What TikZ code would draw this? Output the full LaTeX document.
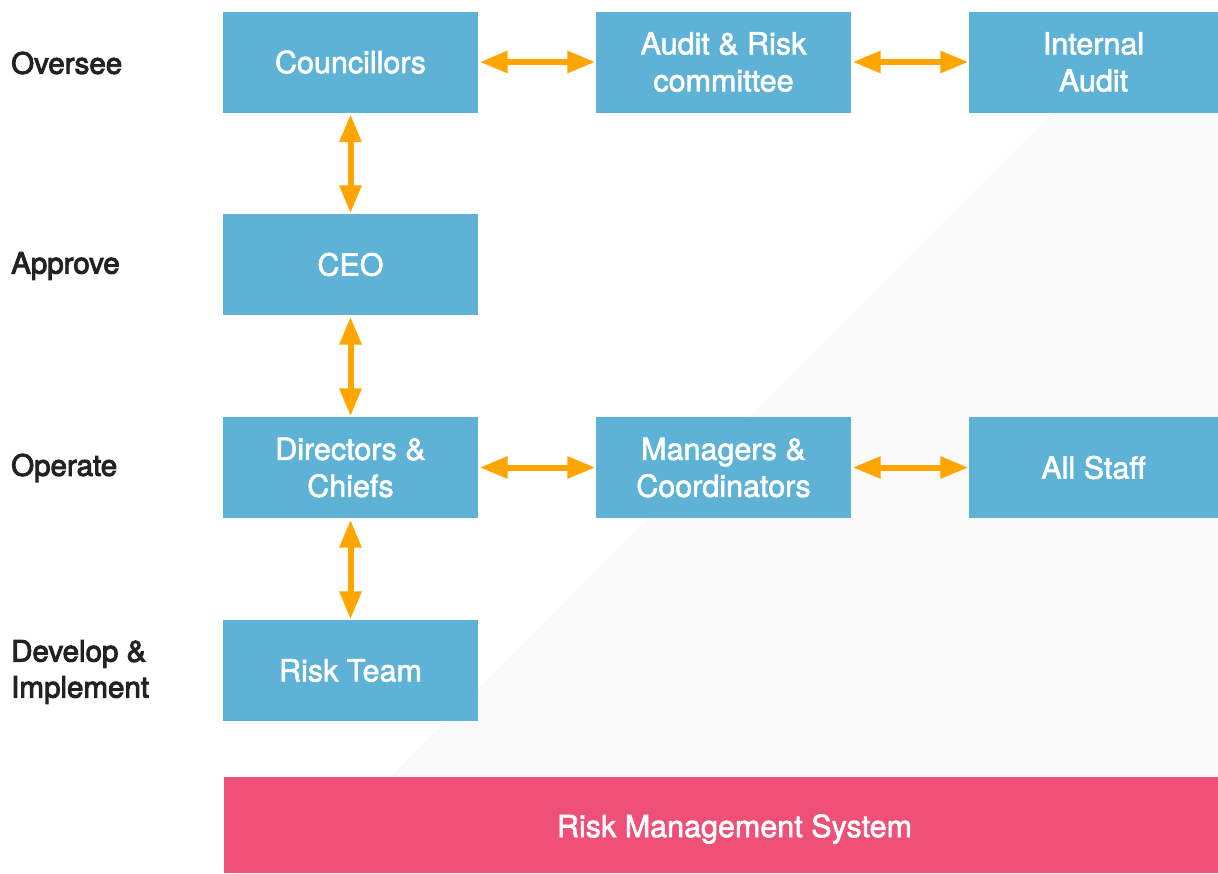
\documentclass[tikz,border=0pt]{standalone}
\usepackage{fontspec}
\setmainfont{TeX Gyre Heros}
\newfontfamily\labfont[FakeBold=3.2]{TeX Gyre Heros}
\newfontfamily\boxfont[FakeBold=2]{TeX Gyre Heros}
\usetikzlibrary{arrows.meta}
\definecolor{boxblue}{HTML}{5DB2D5}
\definecolor{sysred}{HTML}{EF5077}
\definecolor{arrorange}{HTML}{FFA500}
\definecolor{wedgegray}{HTML}{F9F9F9}
\definecolor{labgray}{HTML}{222222}
\begin{document}
\begin{tikzpicture}[x=1pt,y=-1pt,
  unit/.style={fill=boxblue, minimum width=255pt, minimum height=101pt,
    inner sep=0pt, text=white, align=center,
    font=\boxfont\fontsize{30.5}{37}\selectfont},
  level/.style={anchor=west, inner sep=0pt, align=left, text=labgray,
    font=\labfont\fontsize{29.5}{36}\selectfont},
  link/.style={draw=arrorange, line width=6pt,
    {Triangle[length=28pt,width=21pt]}-{Triangle[length=28pt,width=21pt]},
    shorten <=1.5pt, shorten >=0.5pt}]
\useasboundingbox (0,0) rectangle (1218,873);
% soft grey wedge behind the lower right
\fill[wedgegray] (1053,113) -- (1218,113) -- (1218,777) -- (390,777) -- cycle;
% role boxes
\node[unit] (coun) at (350.5,62) {Councillors};
\node[unit] (arc)  at (723.5,62) {Audit \& Risk\\committee};
\node[unit, minimum width=249pt] (ia) at (1093.5,62) {Internal\\Audit};
\node[unit] (ceo)  at (350.5,264.5) {CEO};
\node[unit] (dir)  at (350.5,467.5) {Directors \&\\Chiefs};
\node[unit] (man)  at (723.5,467.5) {Managers \&\\Coordinators};
\node[unit, minimum width=249pt] (staff) at (1093.5,467.5) {All Staff};
\node[unit] (team) at (350.5,670.5) {Risk Team};
% foundation bar with its caption
\fill[sysred] (224,777) rectangle (1218,873);
\node[text=white, inner sep=0pt, font=\boxfont\fontsize{30.5}{37}\selectfont]
  (rms) at (734.5,829) {Risk Management System};
% level labels
\node[level] (l1) at (11,63) {Oversee};
\node[level] (l2) at (11,266) {Approve};
\node[level] (l3) at (11,468) {Operate};
\node[level] (l4) at (11,672) {Develop \&\\Implement};
% two-way links
\draw[link] (coun.east) -- (arc.west);
\draw[link] (arc.east) -- (ia.west);
\draw[link] (dir.east) -- (man.west);
\draw[link] (man.east) -- (staff.west);
\draw[link] (coun.south) -- (ceo.north);
\draw[link] (ceo.south) -- (dir.north);
\draw[link] (dir.south) -- (team.north);
\end{tikzpicture}
\end{document}
